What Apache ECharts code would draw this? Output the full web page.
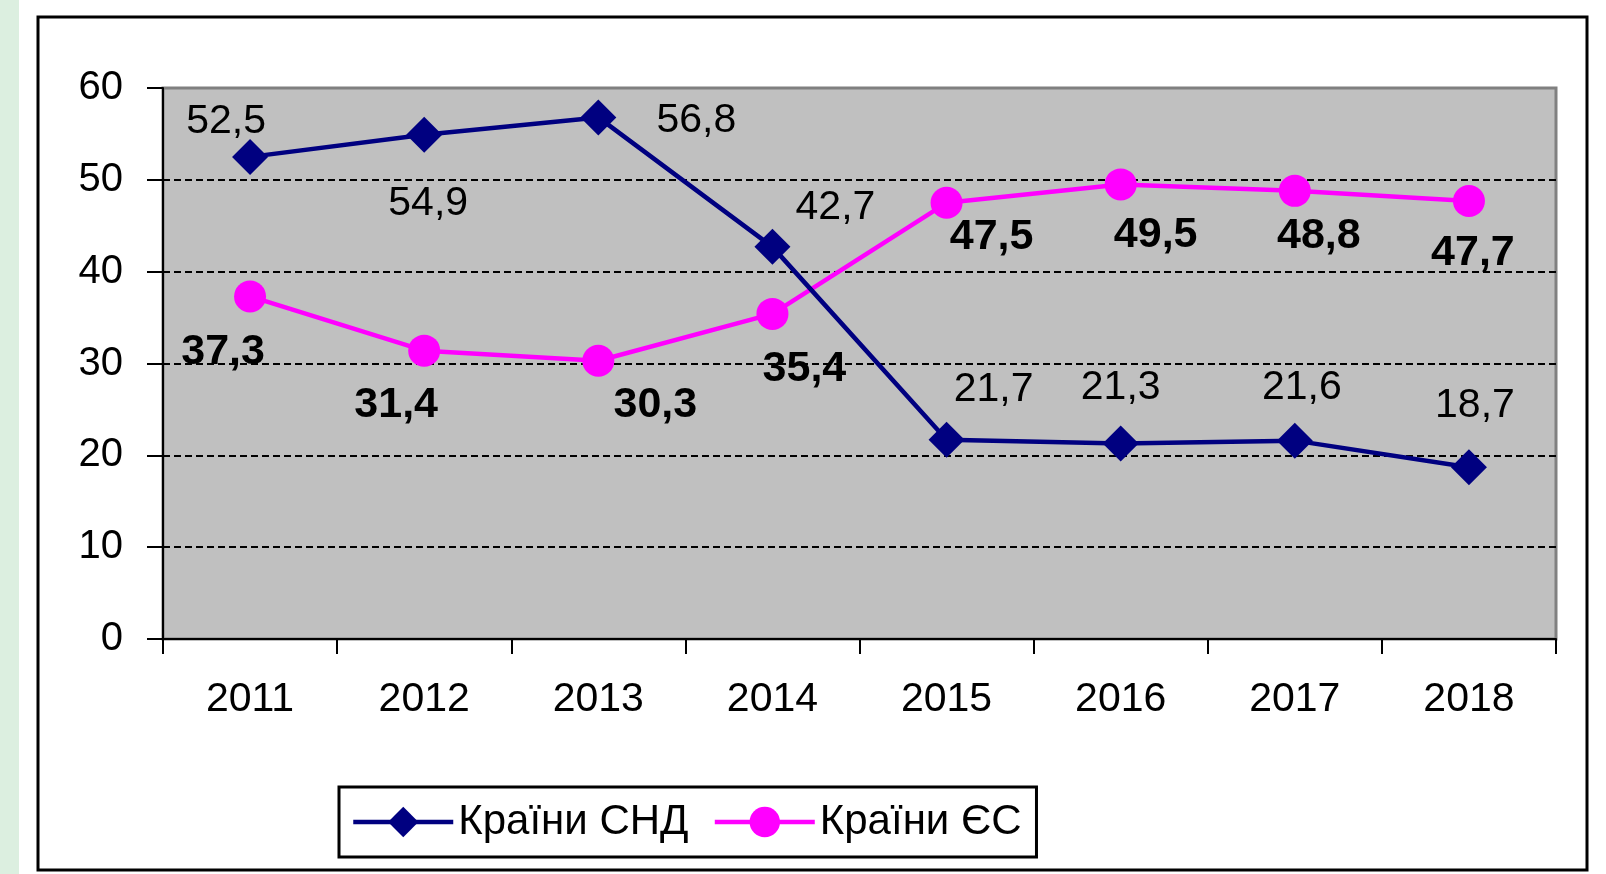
<!DOCTYPE html>
<html>
<head>
<meta charset="utf-8">
<script src="https://cdn.jsdelivr.net/npm/echarts@6/dist/echarts.min.js"></script>
<style>
    html, body { margin: 0; padding: 0; background: #fff; }
    #chart { width: 1606px; height: 874px; }
</style>
</head>
<body>
<div id="chart"></div>
<script>
// дані
var years = ['2011', '2012', '2013', '2014', '2015', '2016', '2017', '2018'];
var cisValues = [52.5, 54.9, 56.8, 42.7, 21.7, 21.3, 21.6, 18.7];
var euValues = [37.3, 31.4, 30.3, 35.4, 47.5, 49.5, 48.8, 47.7];
var seriesNames = ['Країни СНД', 'Країни ЄС'];

// зсуви підписів відносно точок (px)
var cisLabelOffsets = [[-24, -35], [4, 69], [98, 3], [63, -39], [47, -50], [0, -56], [7, -53], [6, -62]];
var euLabelOffsets = [[-27, 56], [-28, 54], [57, 44], [32, 55], [45, 34], [35, 51], [24, 45], [4, 52]];

var font = "'Liberation Sans', Arial, sans-serif";

function commaFormat(p) {
    return String(p.value).replace('.', ',');
}

function withOffsets(values, offsets) {
    return values.map(function (v, i) {
        return {value: v, label: {offset: offsets[i]}};
    });
}

var myChart = echarts.init(document.getElementById('chart'));
var option = {
    backgroundColor: '#fff',
    animation: false,
    graphic: [
        {
            type: 'rect',
            shape: {x: 0, y: 0, width: 19, height: 874},
            style: {fill: '#DCEFE0'},
            z: -10
        },
        {
            type: 'rect',
            shape: {x: 38, y: 17, width: 1549, height: 853},
            style: {fill: 'none', stroke: '#000', lineWidth: 3},
            z: -10
        }
    ],
    grid: {
        left: 163,
        top: 88,
        right: 50,
        bottom: 235,
        show: true,
        backgroundColor: '#C0C0C0',
        borderColor: '#808080',
        borderWidth: 3
    },
    legend: {
        data: seriesNames,
        left: 339,
        top: 787,
        padding: [14, 15, 14, 12],
        itemWidth: 100,
        itemHeight: 38,
        itemGap: 24,
        borderColor: '#000',
        borderWidth: 3,
        lineStyle: {width: 4.5},
        textStyle: {
            color: '#000',
            fontSize: 42,
            fontFamily: font
        }
    },
    xAxis: {
        type: 'category',
        data: years,
        boundaryGap: true,
        axisLine: {lineStyle: {color: '#000', width: 2}},
        axisTick: {show: true, length: 15, lineStyle: {color: '#000', width: 2}},
        axisLabel: {
            color: '#000',
            fontSize: 41,
            fontFamily: font,
            margin: 40,
            interval: 0
        },
        splitLine: {show: false}
    },
    yAxis: {
        type: 'value',
        min: 0,
        max: 60,
        interval: 10,
        axisLine: {show: true, lineStyle: {color: '#000', width: 2}},
        axisTick: {show: true, length: 16, lineStyle: {color: '#000', width: 2}},
        axisLabel: {
            color: '#000',
            fontSize: 40,
            fontFamily: font,
            margin: 40
        },
        splitLine: {
            show: true,
            showMinLine: false,
            showMaxLine: false,
            lineStyle: {color: '#000', width: 2, type: [7, 4]}
        }
    },
    series: [
        {
            name: seriesNames[0],
            type: 'line',
            data: withOffsets(cisValues, cisLabelOffsets),
            symbol: 'diamond',
            symbolSize: 36,
            lineStyle: {color: '#000080', width: 4.5},
            itemStyle: {color: '#000080'},
            label: {
                show: true,
                position: 'inside',
                formatter: commaFormat,
                color: '#000',
                fontSize: 41,
                fontFamily: font
            },
            z: 3
        },
        {
            name: seriesNames[1],
            type: 'line',
            data: withOffsets(euValues, euLabelOffsets),
            symbol: 'circle',
            symbolSize: 32,
            lineStyle: {color: '#FF00FF', width: 4.5},
            itemStyle: {color: '#FF00FF'},
            label: {
                show: true,
                position: 'inside',
                formatter: commaFormat,
                color: '#000',
                fontSize: 43,
                fontWeight: 'bold',
                fontFamily: font
            },
            z: 2
        }
    ]
};
myChart.setOption(option);
</script>
</body>
</html>
